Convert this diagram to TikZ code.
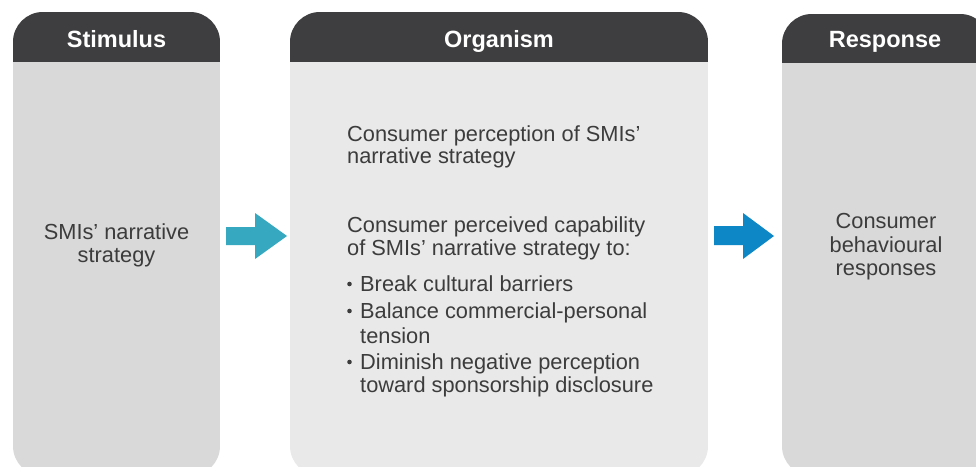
\documentclass[tikz,border=0pt]{standalone}
\usepackage{fontspec}
\setmainfont{Liberation Sans}
\definecolor{hdr}{HTML}{3E3D40}
\definecolor{bodyA}{HTML}{D9D9D9}
\definecolor{bodyB}{HTML}{E9E9E9}
\definecolor{txt}{HTML}{3C3C3C}
\definecolor{arrA}{HTML}{36A9C1}
\definecolor{arrB}{HTML}{0E87C7}
\newcommand{\drawpanel}[5]{%
  \begin{scope}
    \clip[rounded corners=30pt] (#1,#3) rectangle (#2,476);
    \fill[#5] (#1,#3) rectangle (#2,476);
    \fill[hdr] (#1,#3) rectangle (#2,#4);
  \end{scope}}
\begin{document}
\begin{tikzpicture}[x=1pt,y=-1pt,
  hd/.style={font=\fontsize{23.5}{27}\selectfont\bfseries, text=white, anchor=base, inner sep=0pt},
  bt/.style={font=\fontsize{21.8}{25}\selectfont, text=txt, anchor=base west, inner sep=0pt},
  ct/.style={bt, anchor=base},
  dot/.style={circle, fill=txt, inner sep=0pt, minimum size=4.6pt}]
\useasboundingbox (0,0) rectangle (976,466);
\clip (0,0) rectangle (976,466);
\fill[white] (0,0) rectangle (976,466);

% panels
\drawpanel{13}{220}{12}{62}{bodyA}
\drawpanel{290}{708}{12}{62}{bodyB}
\drawpanel{782}{990}{14}{63}{bodyA}

% headers
\node[hd] (hs) at (116.5,47) {Stimulus};
\node[hd] (ho) at (499,47) {Organism};
\node[hd] (hr) at (885,47) {Response};

% stimulus text
\node[ct] (s1) at (116.5,239) {SMIs’ narrative};
\node[ct] (s2) at (116.5,262) {strategy};

% organism text
\node[bt] (o1) at (347,141) {Consumer perception of SMIs’};
\node[bt] (o2) at (347,163) {narrative strategy};
\node[bt] (o3) at (347,232) {Consumer perceived capability};
\node[bt] (o4) at (347,255) {of SMIs’ narrative strategy to:};
\node[dot] (b1) at (349.5,284) {};
\node[bt] (o5) at (360,291) {Break cultural barriers};
\node[dot] (b2) at (349.5,311) {};
\node[bt] (o6) at (360,318) {Balance commercial-personal};
\node[bt] (o7) at (360,343) {tension};
\node[dot] (b3) at (349.5,362) {};
\node[bt] (o8) at (360,369) {Diminish negative perception};
\node[bt] (o9) at (360,392) {toward sponsorship disclosure};

% response text
\node[ct] (r1) at (886,228) {Consumer};
\node[ct] (r2) at (886,252) {behavioural};
\node[ct] (r3) at (886,275) {responses};

% arrows
\fill[arrA] (226,227) -- (255,227) -- (255,213) -- (287,236) -- (255,259) -- (255,245) -- (226,245) -- cycle;
\fill[arrB] (714,226) -- (743,226) -- (743,213) -- (774,236) -- (743,259) -- (743,245) -- (714,245) -- cycle;
\end{tikzpicture}
\end{document}
